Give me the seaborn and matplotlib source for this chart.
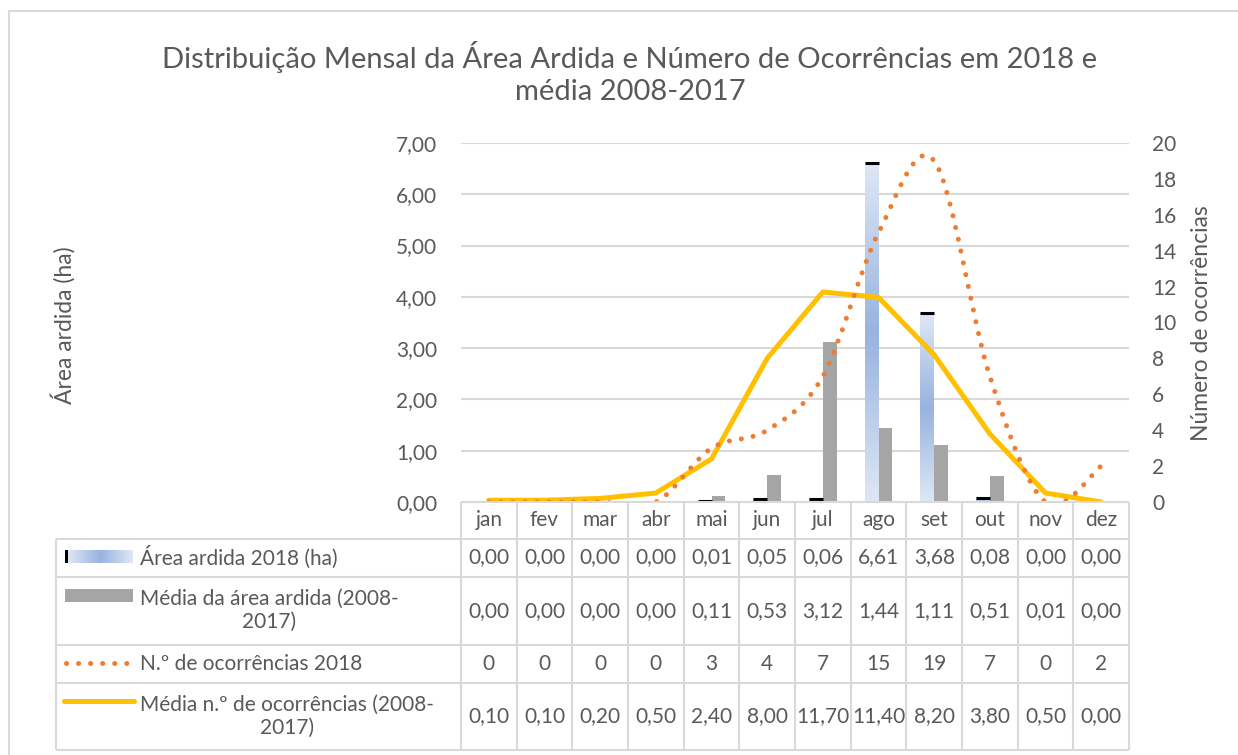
"""
Distribuição mensal da área ardida e número de ocorrências (2018 vs média 2008-2017).
Gráfico de barras + linhas com tabela de dados por baixo, ao estilo Excel.
"""

import matplotlib.pyplot as plt
import numpy as np
import pandas as pd
import seaborn as sns
from matplotlib.colors import LinearSegmentedColormap
from matplotlib.lines import Line2D
from matplotlib.patches import PathPatch, Rectangle
from matplotlib.path import Path

# Dados
meses = ["jan", "fev", "mar", "abr", "mai", "jun", "jul", "ago", "set", "out", "nov", "dez"]
area_2018 = [0.00, 0.00, 0.00, 0.00, 0.01, 0.05, 0.06, 6.61, 3.68, 0.08, 0.00, 0.00]
area_media = [0.00, 0.00, 0.00, 0.00, 0.11, 0.53, 3.12, 1.44, 1.11, 0.51, 0.01, 0.00]
ocorr_2018 = [0, 0, 0, 0, 3, 4, 7, 15, 19, 7, 0, 2]
ocorr_media = [0.10, 0.10, 0.20, 0.50, 2.40, 8.00, 11.70, 11.40, 8.20, 3.80, 0.50, 0.00]

nomes = [
    "Área ardida 2018 (ha)",
    "Média da área ardida (2008-\n2017)",
    "N.º de ocorrências 2018",
    "Média n.º de ocorrências (2008-\n2017)",
]
titulo = "Distribuição Mensal da Área Ardida e Número de Ocorrências em 2018 e\nmédia 2008-2017"

# Estilo
sns.set_theme(style="white")
plt.rcParams["font.family"] = ["Lato", "DejaVu Sans"]
TXT = "#595959"
GRID = "#D9D9D9"
AZUL_CLARO, AZUL_ESCURO = "#DFE7F5", "#97B3E0"
CINZA = "#A5A5A5"
LARANJA = "#ED7D31"
AMARELO = "#FFC000"
FS = 15

W, H = 1238, 755


def fx(px):
    return px / W


def fy(py):
    return 1 - py / H


def fmt2(v):
    return f"{v:.2f}".replace(".", ",")


fig = plt.figure(figsize=(W / 100, H / 100), dpi=100)

# Área do gráfico
left, right, top, zero = 461, 1129, 143, 502
ax = fig.add_axes([fx(left), fy(zero), (right - left) / W, (zero - top) / H])
ax2 = ax.twinx()

df = pd.DataFrame(
    {
        "mes": meses * 2,
        "valor": area_2018 + area_media,
        "serie": [nomes[0]] * 12 + [nomes[1]] * 12,
    }
)
sns.barplot(
    data=df, x="mes", y="valor", hue="serie", palette=[AZUL_ESCURO, CINZA],
    width=0.5, saturation=1, linewidth=0, legend=False, ax=ax, zorder=2,
)

# Gradiente nas barras de 2018 (claro-escuro-claro na vertical)
cmap = LinearSegmentedColormap.from_list("azul", [AZUL_CLARO, AZUL_ESCURO])
grad = (1 - np.abs(np.linspace(-1, 1, 256)))[:, None]
for bar in ax.containers[0]:
    h = bar.get_height()
    if h <= 0:
        continue
    x0, w = bar.get_x(), bar.get_width()
    ax.imshow(grad, extent=[x0, x0 + w, 0, h], origin="lower", cmap=cmap,
              aspect="auto", zorder=2.5, interpolation="bilinear")
    ax.plot([x0, x0 + w], [h, h], color="black", lw=2.2, zorder=3,
            solid_capstyle="butt")

ax.set_xlim(-0.5, 11.5)
ax.set_ylim(0, 7)
ax.set_yticks(np.arange(0, 8, 1))
ax.set_yticklabels([fmt2(v) for v in np.arange(0, 8, 1)])
ax.set_xticks([])
ax.set_xlabel("")
ax.set_ylabel("")
ax.set_axisbelow(True)
ax.yaxis.grid(True, color=GRID, lw=1.5)
ax.tick_params(axis="y", length=0, pad=17, labelsize=FS, labelcolor=TXT)

# Linha da média de ocorrências
sns.lineplot(x=np.arange(12), y=ocorr_media, color=AMARELO, lw=3.6, ax=ax2,
             solid_capstyle="round", solid_joinstyle="round", zorder=3)

# Linha suavizada (Bezier) das ocorrências de 2018
pts = np.column_stack([np.arange(12), ocorr_2018]).astype(float)
verts = [pts[0]]
codes = [Path.MOVETO]
for i in range(len(pts) - 1):
    p0 = pts[max(i - 1, 0)]
    p1 = pts[i]
    p2 = pts[i + 1]
    p3 = pts[min(i + 2, len(pts) - 1)]
    verts += [p1 + (p2 - p0) / 6, p2 - (p3 - p1) / 6, p2]
    codes += [Path.CURVE4] * 3
ax2.add_patch(PathPatch(Path(verts, codes), fill=False, edgecolor=LARANJA, lw=3.6,
                        linestyle=(0, (0.01, 2.4)), capstyle="round", zorder=4))

ax2.set_ylim(0, 20)
ax2.set_yticks(np.arange(0, 21, 2))
ax2.set_xlabel("")
ax2.set_ylabel("")
ax2.tick_params(axis="y", length=0, pad=16.5, labelsize=FS, labelcolor=TXT)
ax.set_xlim(-0.5, 11.5)
for a in (ax, ax2):
    for s in a.spines.values():
        s.set_visible(False)

# Títulos
fig.text(fx(630), fy(73), titulo, ha="center", va="center", multialignment="center",
         fontsize=21, color=TXT, linespacing=1.25)
fig.text(fx(63), fy(325), "Área ardida (ha)", rotation=90, ha="center", va="center",
         fontsize=16.5, color=TXT)
fig.text(fx(1202), fy(323), "Número de ocorrências", rotation=90, ha="center",
         va="center", fontsize=16.5, color=TXT)

# Tabela de dados
colw = (right - left) / 12
tab_left, tab_bottom = 55.7, 750
tab = fig.add_axes([fx(tab_left), fy(tab_bottom), (right - tab_left) / W, (tab_bottom - zero) / H])
tab.set_xlim(-0.5 - (left - tab_left) / colw, 11.5)
tab.set_ylim(tab_bottom, zero)
tab.axis("off")


def tx(px):
    return -0.5 + (px - left) / colw


rows = [zero, 538.5, 576.5, 645, 682.5, tab_bottom]
tab.hlines(zero, -0.5, 11.5, color=GRID, lw=1.5, clip_on=False)
tab.hlines(rows[1:], tx(tab_left), 11.5, color=GRID, lw=1.5, clip_on=False)
tab.vlines(np.arange(-0.5, 12, 1), zero, tab_bottom, color=GRID, lw=1.5, clip_on=False)
tab.vlines(tx(tab_left), rows[1], tab_bottom, color=GRID, lw=1.5, clip_on=False)

for i, m in enumerate(meses):
    tab.text(i, (rows[0] + rows[1]) / 2, m, ha="center", va="center", fontsize=FS, color=TXT)

linhas = [
    [fmt2(v) for v in area_2018],
    [fmt2(v) for v in area_media],
    [str(v) for v in ocorr_2018],
    [fmt2(v) for v in ocorr_media],
]
for r, valores in enumerate(linhas):
    yc = (rows[r + 1] + rows[r + 2]) / 2
    for i, v in enumerate(valores):
        tab.text(i, yc, v, ha="center", va="center", fontsize=FS, color=TXT)
    tab.text(tx(140), yc, nomes[r], ha="left", va="center", multialignment="center",
             fontsize=FS, color=TXT, linespacing=1.2)

# Chaves da legenda
tab.imshow(grad.T, extent=[tx(68), tx(133), 563, 550], cmap=cmap, aspect="auto",
           interpolation="bilinear", zorder=2)
tab.add_patch(Rectangle((tx(65), 550), tx(68) - tx(65), 13, color="black", lw=0))
tab.add_patch(Rectangle((tx(65), 589), tx(133) - tx(65), 13, color=CINZA, lw=0))
tab.plot([tx(66), tx(128)], [663, 663], color=LARANJA, lw=3.6,
         linestyle=(0, (0.01, 2.4)), dash_capstyle="round")
tab.plot([tx(64), tx(134)], [701, 701], color=AMARELO, lw=3.6, solid_capstyle="round")
tab.set_xlim(-0.5 - (left - tab_left) / colw, 11.5)
tab.set_ylim(tab_bottom, zero)

# Moldura do gráfico
fig.add_artist(Line2D([fx(9), fx(9)], [fy(11), 0], transform=fig.transFigure, color=GRID, lw=1.5))
fig.add_artist(Line2D([fx(9), 1], [fy(11), fy(11)], transform=fig.transFigure, color=GRID, lw=1.5))

fig.savefig("out.png", dpi=100)
